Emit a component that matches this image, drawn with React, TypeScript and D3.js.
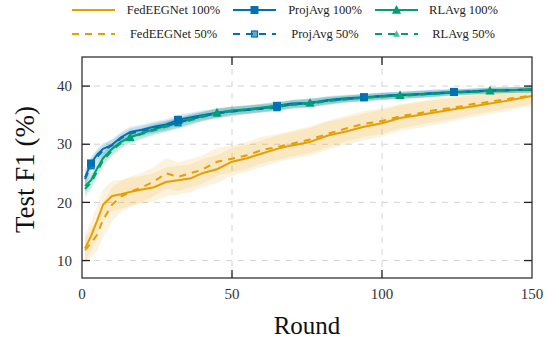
import React from "react";
import * as d3 from "d3";

const rounds = [1, 3, 5, 7, 10, 13, 16, 20, 24, 28, 32, 36, 40, 45, 50, 55, 60, 65, 70, 76, 82, 88, 94, 100, 106, 112, 118, 124, 130, 136, 142, 150];

const fed100 = [12.1, 14.2, 16.8, 19.6, 21.1, 21.4, 21.8, 22.2, 22.6, 23.5, 23.8, 24.1, 25.0, 25.7, 27.0, 27.6, 28.4, 29.2, 29.8, 30.4, 31.5, 32.2, 33.0, 33.6, 34.5, 35.0, 35.5, 36.0, 36.5, 37.0, 37.5, 38.3];
const fed50 = [11.8, 13.0, 14.4, 17.0, 19.6, 21.0, 21.8, 22.6, 23.6, 25.0, 24.4, 25.0, 25.6, 27.0, 27.5, 28.1, 29.0, 29.5, 30.1, 30.8, 31.8, 32.7, 33.5, 34.0, 34.8, 35.3, 35.9, 36.3, 36.9, 37.3, 37.8, 38.4];
const proj100 = [24.3, 26.7, 28.2, 29.2, 29.9, 31.2, 32.1, 32.5, 33.0, 33.4, 34.2, 34.6, 35.0, 35.4, 35.7, 35.9, 36.2, 36.6, 37.0, 37.1, 37.6, 37.9, 38.1, 38.3, 38.5, 38.6, 38.8, 39.0, 39.1, 39.3, 39.3, 39.4];
const proj50 = [24.0, 26.3, 27.8, 28.9, 29.8, 31.0, 31.8, 32.3, 32.8, 33.2, 33.7, 34.3, 34.8, 35.3, 35.6, 35.9, 36.1, 36.3, 36.9, 37.1, 37.5, 37.8, 38.0, 38.3, 38.4, 38.6, 38.8, 38.9, 39.1, 39.2, 39.3, 39.4];
const rl100 = [22.8, 23.8, 25.8, 27.6, 29.2, 30.4, 31.2, 31.9, 32.6, 33.1, 33.7, 34.3, 34.8, 35.4, 35.8, 36.0, 36.3, 36.6, 36.8, 37.1, 37.5, 37.8, 38.0, 38.2, 38.4, 38.6, 38.7, 38.9, 39.0, 39.2, 39.3, 39.4];
const rl50 = [22.3, 23.4, 25.3, 27.2, 28.9, 30.2, 31.0, 31.8, 32.4, 33.0, 33.5, 34.1, 34.7, 35.2, 35.7, 36.0, 36.2, 36.4, 36.8, 37.0, 37.4, 37.7, 38.0, 38.2, 38.3, 38.5, 38.7, 38.9, 39.0, 39.2, 39.3, 39.4];

const fedStd100 = [2.4, 2.5, 2.6, 2.7, 2.6, 2.5, 2.4, 2.4, 2.4, 2.5, 2.5, 2.4, 2.4, 2.4, 2.4, 2.3, 2.3, 2.3, 2.3, 2.4, 2.4, 2.3, 2.3, 2.3, 2.2, 2.2, 2.1, 2.0, 1.9, 1.8, 1.8, 1.7];
const fedStd50 = [2.2, 2.4, 2.8, 3.0, 2.9, 2.7, 2.6, 2.5, 2.5, 2.6, 2.5, 2.4, 2.4, 2.4, 2.3, 2.3, 2.3, 2.2, 2.2, 2.3, 2.3, 2.2, 2.2, 2.2, 2.1, 2.0, 2.0, 1.9, 1.8, 1.7, 1.6, 1.5];
const projStd100 = [1.2, 1.1, 1.0, 1.0, 0.9, 0.9, 0.9, 0.9, 0.9, 0.9, 0.9, 0.8, 0.8, 0.8, 0.7, 0.7, 0.7, 0.7, 0.7, 0.7, 0.7, 0.6, 0.6, 0.6, 0.6, 0.6, 0.6, 0.5, 0.5, 0.5, 0.5, 0.5];
const projStd50 = [1.3, 1.2, 1.1, 1.0, 1.0, 0.9, 0.9, 0.9, 0.9, 0.9, 0.9, 0.9, 0.8, 0.8, 0.8, 0.7, 0.7, 0.7, 0.7, 0.7, 0.7, 0.6, 0.6, 0.6, 0.6, 0.6, 0.6, 0.5, 0.5, 0.5, 0.5, 0.5];
const rlStd100 = [1.3, 1.2, 1.1, 1.0, 1.0, 0.9, 0.9, 0.9, 0.9, 0.9, 0.9, 0.8, 0.8, 0.8, 0.7, 0.7, 0.7, 0.7, 0.7, 0.7, 0.6, 0.6, 0.6, 0.6, 0.6, 0.6, 0.5, 0.5, 0.5, 0.5, 0.5, 0.5];
const rlStd50 = [1.4, 1.3, 1.2, 1.1, 1.0, 1.0, 0.9, 0.9, 0.9, 0.9, 0.9, 0.9, 0.8, 0.8, 0.8, 0.7, 0.7, 0.7, 0.7, 0.7, 0.7, 0.6, 0.6, 0.6, 0.6, 0.6, 0.6, 0.5, 0.5, 0.5, 0.5, 0.5];

const projMarkerRounds = [3, 32, 65, 94, 124];
const rlMarkerRounds = [16, 45, 76, 106, 136];

const xTicks = [0, 50, 100, 150];
const yTicks = [10, 20, 30, 40];

const ORANGE = "#E69F00";
const BLUE = "#0072B2";
const GREEN = "#009E73";

type Series = {
  label: string;
  values: number[];
  std: number[];
  color: string;
  dashed: boolean;
  marker: "none" | "square" | "triangle";
  markerRounds: number[];
  bandOpacity: number;
};

const series: Series[] = [
  { label: "FedEEGNet 100%", values: fed100, std: fedStd100, color: ORANGE, dashed: false, marker: "none", markerRounds: [], bandOpacity: 0.13 },
  { label: "ProjAvg 100%", values: proj100, std: projStd100, color: BLUE, dashed: false, marker: "square", markerRounds: projMarkerRounds, bandOpacity: 0.13 },
  { label: "RLAvg 100%", values: rl100, std: rlStd100, color: GREEN, dashed: false, marker: "triangle", markerRounds: rlMarkerRounds, bandOpacity: 0.13 },
  { label: "FedEEGNet 50%", values: fed50, std: fedStd50, color: ORANGE, dashed: true, marker: "none", markerRounds: [], bandOpacity: 0.13 },
  { label: "ProjAvg 50%", values: proj50, std: projStd50, color: BLUE, dashed: true, marker: "square", markerRounds: projMarkerRounds, bandOpacity: 0.13 },
  { label: "RLAvg 50%", values: rl50, std: rlStd50, color: GREEN, dashed: true, marker: "triangle", markerRounds: rlMarkerRounds, bandOpacity: 0.13 },
];

const W = 559;
const H = 341;
const L = 82, R = 532, T = 57, B = 278;

function Marker({ kind, x, y, color, small }: { kind: string; x: number; y: number; color: string; small?: boolean }) {
  const s = small ? 3 : 4;
  if (kind === "square") {
    return <rect x={x - s} y={y - s} width={2 * s} height={2 * s} fill={color} stroke={color} strokeWidth={small ? 1.2 : 0} fillOpacity={small ? 0.6 : 1} />;
  }
  if (kind === "triangle") {
    const h = s * 1.15;
    return <path d={`M${x},${y - h * 1.1}L${x + h},${y + h * 0.8}L${x - h},${y + h * 0.8}Z`} fill={color} fillOpacity={small ? 0.7 : 1} />;
  }
  return null;
}

export default function App() {
  const x = d3.scaleLinear().domain([0, 150]).range([L, R]);
  const y = d3.scaleLinear().domain([7, 45]).range([B, T]);

  const line = (vals: number[]) =>
    d3.line<number>().x((_, i) => x(rounds[i])).y((v) => y(v))(vals) || "";
  const band = (vals: number[], std: number[]) =>
    d3
      .area<number>()
      .x((_, i) => x(rounds[i]))
      .y0((v, i) => y(v - std[i]))
      .y1((v, i) => y(v + std[i]))(vals) || "";

  const interp = (vals: number[], r: number) => {
    const f = d3.scaleLinear().domain(rounds).range(vals);
    return f(r);
  };

  const legendCols = [
    { lx: 72, tx: 173.5 },
    { lx: 233, tx: 325 },
    { lx: 375, tx: 463.5 },
  ];
  const legendRows = [10, 34];

  const serif = "'Liberation Serif', 'Times New Roman', serif";

  return (
    <svg width={W} height={H} style={{ position: "absolute", left: 0, top: 0 }}>
      <rect width={W} height={H} fill="white" />
      {/* legend */}
      {series.map((s, i) => {
        const col = legendCols[i % 3];
        const row = legendRows[Math.floor(i / 3)];
        return (
          <g key={s.label}>
            <line x1={col.lx} x2={col.lx + 43} y1={row} y2={row} stroke={s.color} strokeWidth={2} strokeDasharray={s.dashed ? "7,6" : undefined} />
            {s.marker !== "none" && <Marker kind={s.marker} x={col.lx + 21.5} y={row} color={s.color} small={s.dashed} />}
            <text x={col.tx} y={row} dy="0.35em" textAnchor="middle" fontFamily={serif} fontSize={12.5} fill="#222">
              {s.label}
            </text>
          </g>
        );
      })}

      {/* grid */}
      {yTicks.map((t) => (
        <line key={"gy" + t} x1={L} x2={R} y1={y(t)} y2={y(t)} stroke="#d4d4d4" strokeWidth={1} strokeDasharray="6,6" />
      ))}
      {xTicks.slice(1, -1).map((t) => (
        <line key={"gx" + t} x1={x(t)} x2={x(t)} y1={T} y2={B} stroke="#d4d4d4" strokeWidth={1} strokeDasharray="6,6" />
      ))}

      <defs>
        <clipPath id="plotclip">
          <rect x={L} y={T} width={R - L} height={B - T} />
        </clipPath>
      </defs>

      <g clipPath="url(#plotclip)">
        {series.map((s) => (
          <path key={"b" + s.label} d={band(s.values, s.std)} fill={s.color} fillOpacity={s.bandOpacity} stroke="none" />
        ))}
        {series.map((s) => (
          <path
            key={"l" + s.label}
            d={line(s.values)}
            fill="none"
            stroke={s.color}
            strokeWidth={2}
            strokeDasharray={s.dashed ? "7,6" : undefined}
            strokeLinejoin="round"
          />
        ))}
        {series.map((s) =>
          s.markerRounds.map((r) => (
            <Marker key={s.label + r} kind={s.marker} x={x(r)} y={y(interp(s.values, r))} color={s.color} small={s.dashed} />
          ))
        )}
      </g>

      {/* frame */}
      <rect x={L} y={T} width={R - L} height={B - T} fill="none" stroke="#333" strokeWidth={1.3} />
      {/* ticks */}
      {yTicks.map((t) => (
        <g key={"ty" + t}>
          <line x1={L} x2={L + 8} y1={y(t)} y2={y(t)} stroke="#222" strokeWidth={1.3} />
          <line x1={R - 8} x2={R} y1={y(t)} y2={y(t)} stroke="#222" strokeWidth={1.3} />
          <text x={L - 10} y={y(t)} dy="0.35em" textAnchor="end" fontFamily={serif} fontSize={15} fill="#333">
            {t}
          </text>
        </g>
      ))}
      {xTicks.map((t) => (
        <g key={"tx" + t}>
          {t > 0 && t < 150 && (
            <>
              <line x1={x(t)} x2={x(t)} y1={B} y2={B - 8} stroke="#222" strokeWidth={1.3} />
              <line x1={x(t)} x2={x(t)} y1={T} y2={T + 8} stroke="#222" strokeWidth={1.3} />
            </>
          )}
          <text x={x(t)} y={294} dy="0.35em" textAnchor="middle" fontFamily={serif} fontSize={15} fill="#333">
            {t}
          </text>
        </g>
      ))}

      <text x={307} y={325} dy="0.35em" textAnchor="middle" fontFamily={serif} fontSize={25} fill="#111">
        Round
      </text>
      <text
        transform={`translate(25,${(T + B) / 2 + 2}) rotate(-90)`}
        dy="0.35em"
        textAnchor="middle"
        fontFamily={serif}
        fontSize={27}
        fill="#111"
      >
        Test F1 (%)
      </text>
    </svg>
  );
}
